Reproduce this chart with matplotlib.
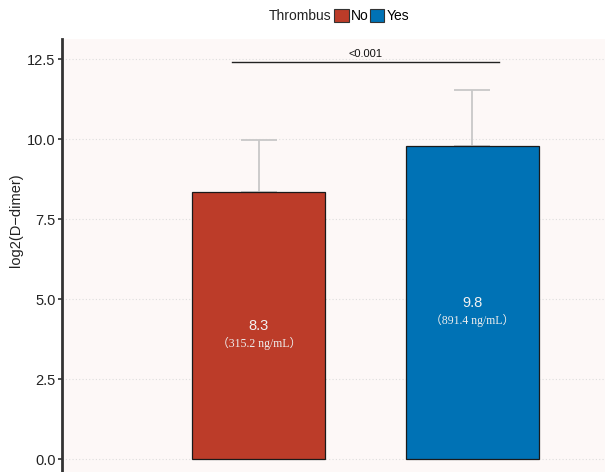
import matplotlib.pyplot as plt
from matplotlib.patches import Patch

plt.rcParams["font.family"] = ["Liberation Sans", "DejaVu Sans"]

groups = ["No", "Yes"]
means = [8.34, 9.78]
upper_err = [1.63, 1.75]
mean_labels = ["8.3", "9.8"]
ng_labels = ["（315.2 ng/mL）", "（891.4 ng/mL）"]
colors = ["#BC3C29", "#0072B5"]
p_text = "<0.001"
p_y = 12.4
yticks = [0.0, 2.5, 5.0, 7.5, 10.0, 12.5]

fig = plt.figure(figsize=(6.05, 4.72), dpi=100)
ax = fig.add_axes([62 / 605, 0.0, 1 - 62 / 605, 1 - 39 / 472])
ax.set_facecolor("#FDF8F7")

x = [1, 2]
width = 0.625
ax.bar(x, means, width=width, color=colors, edgecolor="#1a1a1a", linewidth=0.9, zorder=3)
ax.errorbar(x, means, yerr=[[0, 0], upper_err], fmt="none", ecolor="#C8C8C8",
            elinewidth=1.3, capsize=13, capthick=1.3, zorder=2)

for xi, m, lab, ng in zip(x, means, mean_labels, ng_labels):
    ax.text(xi, m / 2, lab, ha="center", va="center", color="#F2F2F2", fontsize=10.5, zorder=4)
    ax.text(xi, m / 2 - 0.56, ng, ha="center", va="center", color="#EDEDED", fontsize=8.5,
            family=["Liberation Serif", "Noto Sans CJK TC"], zorder=4)

# significance bracket
ax.plot([1 - 0.125, 2 + 0.125], [p_y, p_y], color="#222222", linewidth=1.0, zorder=3)
ax.text(1.5, p_y + 0.12, p_text, ha="center", va="bottom", fontsize=8, color="#111111")

ax.set_xlim(0.08, 2.62)
ax.set_ylim(-0.4, 13.13)
ax.set_yticks(yticks)
ax.set_yticklabels([f"{t:.1f}" for t in yticks], fontsize=10.5, color="#222222")
ax.set_xticks([])
ax.set_ylabel("log2(D\u2212dimer)", fontsize=10.5, color="#222222")
ax.yaxis.set_label_coords(-0.072, (472 - 220) / 433)
ax.grid(axis="y", linestyle=(0, (1, 2)), color="#DDDDDD", linewidth=0.8, zorder=0)

for s in ["top", "right", "bottom"]:
    ax.spines[s].set_visible(False)
ax.spines["left"].set_linewidth(2.0)
ax.spines["left"].set_color("#333333")
ax.tick_params(axis="y", length=3, width=1.2, color="#333333", pad=1.5)

handles = [Patch(facecolor=c, edgecolor="#333333", linewidth=0.8) for c in colors]
fig.text(331 / 605, 1 - 16 / 472, "Thrombus", ha="right", va="center", fontsize=10, color="#222222")
fig.legend(handles, groups, loc="center left", bbox_to_anchor=(334 / 605, 1 - 16 / 472), ncol=2,
           frameon=False, fontsize=10, handlelength=1.05, handleheight=1.05,
           handletextpad=0.15, columnspacing=0.1, borderpad=0, borderaxespad=0)

fig.savefig("out.png", dpi=100)
